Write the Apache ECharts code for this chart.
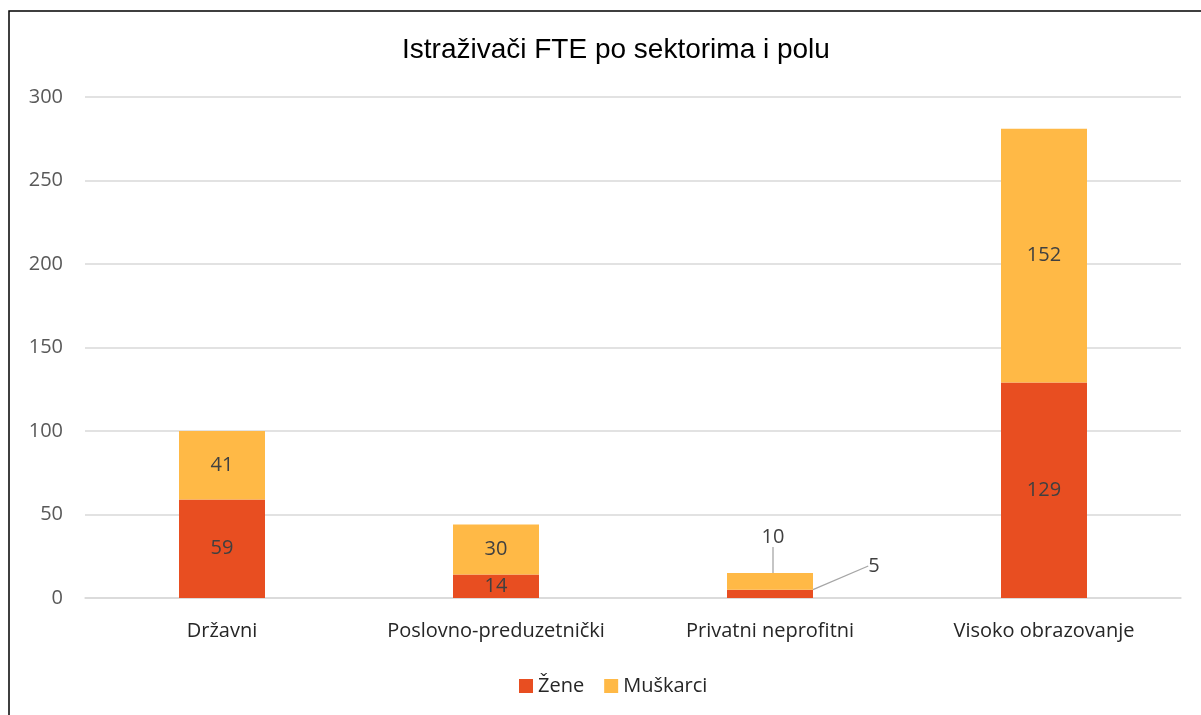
<!DOCTYPE html>
<html>
<head>
<meta charset="utf-8">
<script src="https://cdn.jsdelivr.net/npm/echarts@6/dist/echarts.min.js"></script>
<style>
html, body { margin: 0; padding: 0; background: #fff; }
#main { width: 1201px; height: 715px; }
</style>
</head>
<body>
<div id="main"></div>
<script>
// podaci
var sektori = ['Državni', 'Poslovno-preduzetnički', 'Privatni neprofitni', 'Visoko obrazovanje'];
var zene = [59, 14, 5, 129];
var muskarci = [41, 30, 10, 152];
var yTicks = [0, 50, 100, 150, 200, 250, 300];

var labelFont = 'Open Sans, Noto Sans, sans-serif';

// mali segmenti imaju oznaku izvan stupca
function withLine(arr, idx) {
	return arr.map(function(v, i) {
		if (i == idx) {
			return { value: v, labelLine: { show: true, lineStyle: { color: '#a6a6a6', width: 1.3 } } };
		}
		return v;
	});
}

var myChart = echarts.init(document.getElementById('main'));
myChart.setOption({
	backgroundColor: '#fff',
	animation: false,
	title: {
		text: 'Istraživači FTE po sektorima i polu',
		left: 397,
		top: 31,
		textStyle: {
			fontFamily: 'Liberation Sans, Arial, sans-serif',
			fontSize: 28,
			fontWeight: 'normal',
			color: '#000'
		}
	},
	graphic: [{
		type: 'rect',
		shape: { x: 9, y: 11, width: 1220, height: 730 },
		style: { fill: 'none', stroke: '#000', lineWidth: 1.5 },
		silent: true
	}],
	legend: {
		bottom: 14,
		left: 514,
		itemWidth: 14,
		itemHeight: 14,
		itemGap: 20,
		icon: 'rect',
		textStyle: { fontFamily: labelFont, fontSize: 20, color: '#262626' },
		data: ['Žene', 'Muškarci']
	},
	grid: {
		left: 85,
		right: 20,
		top: 97,
		bottom: 117,
		containLabel: false
	},
	xAxis: {
		type: 'category',
		data: sektori,
		axisLine: { lineStyle: { color: '#d9d9d9', width: 1.5 } },
		axisTick: { show: false },
		axisLabel: {
			interval: 0,
			margin: 23,
			fontFamily: labelFont,
			fontSize: 20,
			color: '#262626'
		}
	},
	yAxis: {
		type: 'value',
		min: yTicks[0],
		max: yTicks[yTicks.length - 1],
		interval: 50,
		axisLine: { show: false },
		axisTick: { show: false },
		splitLine: { lineStyle: { color: '#d9d9d9', width: 1.5 } },
		axisLabel: {
			margin: 22,
			fontFamily: labelFont,
			fontSize: 20,
			color: '#595959',
			align: 'right'
		}
	},
	series: [{
		name: 'Žene',
		type: 'bar',
		stack: 'ukupno',
		barWidth: 86,
		itemStyle: { color: '#E84E21' },
		label: {
			show: true,
			position: 'inside',
			fontFamily: labelFont,
			fontSize: 20,
			color: '#404040'
		},
		labelLayout: function(params) {
			if (params.dataIndex == 2) {
				return { x: 874, y: 566, align: 'center', verticalAlign: 'middle' };
			}
			return {};
		},
		data: withLine(zene, 2)
	}, {
		name: 'Muškarci',
		type: 'bar',
		stack: 'ukupno',
		barWidth: 86,
		itemStyle: { color: '#FFB946' },
		label: {
			show: true,
			position: 'inside',
			fontFamily: labelFont,
			fontSize: 20,
			color: '#404040'
		},
		labelLayout: function(params) {
			if (params.dataIndex == 2) {
				return { x: 773, y: 537, align: 'center', verticalAlign: 'middle' };
			}
			return {};
		},
		data: withLine(muskarci, 2)
	}]
});
</script>
</body>
</html>
